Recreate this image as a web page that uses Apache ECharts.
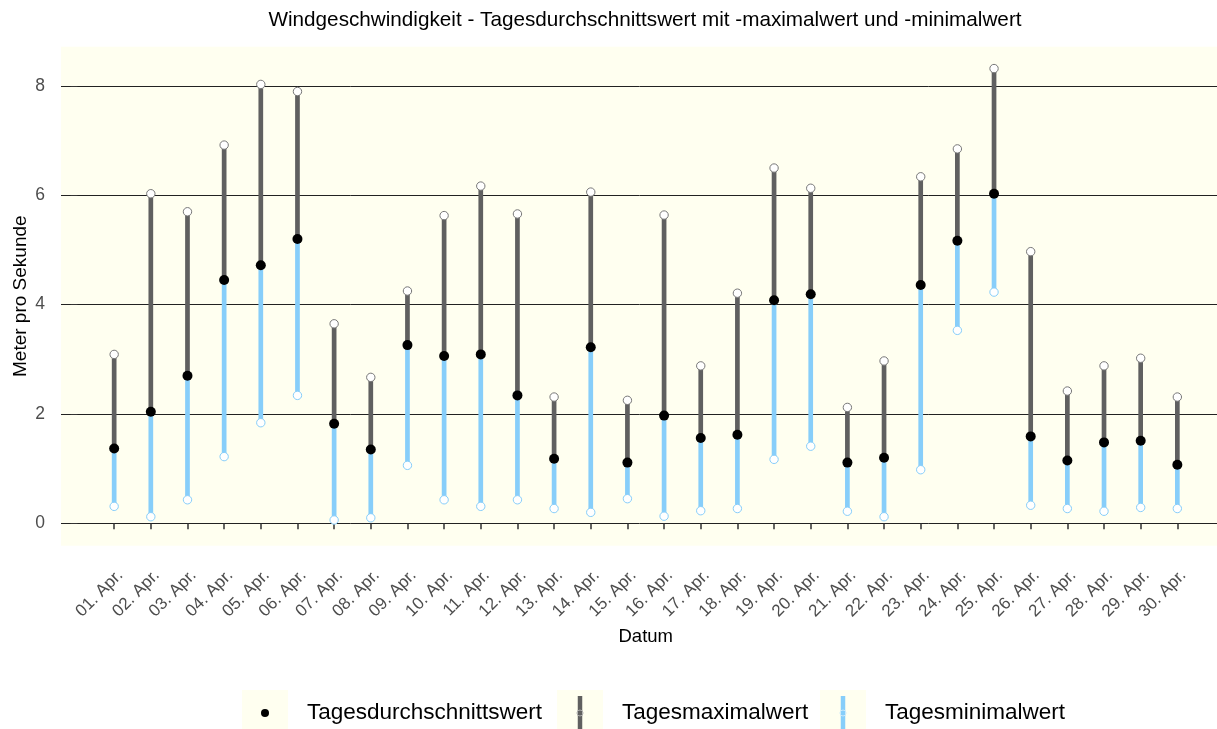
<!DOCTYPE html>
<html>
<head>
<meta charset="utf-8">
<script src="https://cdn.jsdelivr.net/npm/echarts@6/dist/echarts.min.js"></script>
<style>
html,body{margin:0;padding:0;background:#fff;}
#chart{width:1217px;height:729px;}
</style>
</head>
<body>
<div id="chart"></div>
<script>
const days = ['01. Apr.','02. Apr.','03. Apr.','04. Apr.','05. Apr.','06. Apr.','07. Apr.','08. Apr.','09. Apr.','10. Apr.',
  '11. Apr.','12. Apr.','13. Apr.','14. Apr.','15. Apr.','16. Apr.','17. Apr.','18. Apr.','19. Apr.','20. Apr.',
  '21. Apr.','22. Apr.','23. Apr.','24. Apr.','25. Apr.','26. Apr.','27. Apr.','28. Apr.','29. Apr.','30. Apr.'];
const meanVals = [1.37,2.04,2.70,4.45,4.72,5.20,1.82,1.35,3.26,3.06,3.09,2.34,1.18,3.22,1.11,1.97,1.56,1.62,4.08,4.19,1.11,1.20,4.36,5.17,6.03,1.59,1.15,1.48,1.51,1.07];
const maxVals = [3.09,6.03,5.70,6.92,8.03,7.90,3.65,2.67,4.25,5.63,6.17,5.66,2.31,6.06,2.25,5.64,2.88,4.21,6.50,6.13,2.12,2.97,6.34,6.85,8.32,4.97,2.42,2.88,3.02,2.31];
const minVals = [0.31,0.12,0.43,1.22,1.84,2.34,0.06,0.10,1.06,0.43,0.31,0.43,0.27,0.20,0.45,0.13,0.23,0.27,1.17,1.41,0.22,0.12,0.98,3.53,4.23,0.33,0.27,0.22,0.29,0.27];
const yTicks = [0,2,4,6,8];

const titleText = 'Windgeschwindigkeit - Tagesdurchschnittswert mit -maximalwert und -minimalwert';
const nameMean = 'Tagesdurchschnittswert', nameMax = 'Tagesmaximalwert', nameMin = 'Tagesminimalwert';

const PANEL = '#FFFFF0', GREY = '#606060', BLUE = '#87CEFA';
const FONT = '"Liberation Sans", Arial, sans-serif';

const xPos = days.map((d, i) => i + 1);

function svgIcon(inner) {
  const svg = "<svg xmlns='http://www.w3.org/2000/svg' width='46' height='46'><rect width='46' height='46' fill='" + PANEL + "'/>" + inner + "</svg>";
  return 'image://data:image/svg+xml;charset=utf-8,' + encodeURIComponent(svg);
}
const iconMean = svgIcon("<circle cx='23' cy='23' r='4' fill='#000'/>");
const iconMax = svgIcon("<line x1='23' y1='6' x2='23' y2='40' stroke='" + GREY + "' stroke-width='4.5'/><circle cx='23' cy='23' r='3' fill='none' stroke='#aaaaaa' stroke-width='1'/>");
const iconMin = svgIcon("<line x1='23' y1='6' x2='23' y2='40' stroke='" + BLUE + "' stroke-width='4.5'/><circle cx='23' cy='23' r='3' fill='none' stroke='#c8e8fc' stroke-width='1'/>");

function rangeRenderer(color, circleStroke, circleAtLow) {
  return function (params, api) {
    const x = api.value(0), lo = api.value(1), hi = api.value(2);
    const p1 = api.coord([x, lo]), p2 = api.coord([x, hi]);
    const c = circleAtLow ? p1 : p2;
    return {
      type: 'group',
      children: [
        {type: 'line', shape: {x1: p1[0], y1: p1[1], x2: p2[0], y2: p2[1]}, style: {stroke: color, lineWidth: 4.7}},
        {type: 'circle', shape: {cx: c[0], cy: c[1], r: 4.2}, style: {fill: '#ffffff', stroke: circleStroke, lineWidth: 1}}
      ]
    };
  };
}

const legendBase = {
  top: 690, itemWidth: 46, itemHeight: 46, padding: 0, selectedMode: false,
  textStyle: {fontSize: 22.5, color: '#000', fontFamily: FONT, padding: [0, 0, 0, 14]}
};

const chart = echarts.init(document.getElementById('chart'));
chart.setOption({
  animation: false,
  backgroundColor: '#ffffff',
  textStyle: {fontFamily: FONT},
  title: {
    text: titleText, left: 645, top: 10, textAlign: 'center', padding: 0,
    textStyle: {fontSize: 20.7, fontWeight: 'normal', color: '#000', fontFamily: FONT}
  },
  legend: [
    Object.assign({}, legendBase, {left: 242, data: [{name: nameMean, icon: iconMean}]}),
    Object.assign({}, legendBase, {left: 557, data: [{name: nameMax, icon: iconMax}]}),
    Object.assign({}, legendBase, {left: 820, data: [{name: nameMin, icon: iconMin}]})
  ],
  grid: {
    left: 61, top: 46.7, width: 1169.5, bottom: 183.3,
    show: true, backgroundColor: PANEL, borderWidth: 0, containLabel: false,
    outerBoundsMode: 'none'
  },
  xAxis: {
    type: 'value', min: -0.45, max: 31.45,
    name: 'Datum', nameLocation: 'middle', nameGap: 82,
    nameTextStyle: {fontSize: 18.5, color: '#000', fontFamily: FONT},
    axisLine: {show: false},
    axisTick: {show: true, customValues: xPos, length: 6, inside: false, lineStyle: {color: '#333', width: 1.5}},
    axisLabel: {
      customValues: xPos, rotate: 45, margin: 21, verticalAlign: 'top',
      fontSize: 17, color: '#4d4d4d', fontFamily: FONT,
      formatter: v => days[Math.round(v) - 1] || ''
    },
    splitLine: {show: false}
  },
  yAxis: {
    type: 'value', min: -0.41, max: 8.72,
    name: 'Meter pro Sekunde', nameLocation: 'middle', nameGap: 31, nameRotate: 90,
    nameMoveOverlap: false,
    nameTextStyle: {fontSize: 19, color: '#000', fontFamily: FONT},
    axisLine: {show: false},
    axisTick: {show: true, customValues: yTicks, length: 7, lineStyle: {color: '#333', width: 1}},
    axisLabel: {customValues: yTicks, margin: 16, fontSize: 17.5, color: '#4d4d4d', fontFamily: FONT},
    splitLine: {show: true, lineStyle: {color: '#222', width: 1}}
  },
  series: [
    {
      name: nameMax, type: 'custom', clip: false, color: GREY,
      renderItem: rangeRenderer(GREY, '#777777', false),
      encode: {x: 0, y: [1, 2]},
      data: xPos.map((x, i) => [x, meanVals[i], maxVals[i]]),
      z: 2
    },
    {
      name: nameMin, type: 'custom', clip: false, color: BLUE,
      renderItem: rangeRenderer(BLUE, BLUE, true),
      encode: {x: 0, y: [1, 2]},
      data: xPos.map((x, i) => [x, minVals[i], meanVals[i]]),
      z: 2
    },
    {
      name: nameMean, type: 'scatter', clip: false,
      symbol: 'circle', symbolSize: 10,
      itemStyle: {color: '#000', opacity: 1},
      data: xPos.map((x, i) => [x, meanVals[i]]),
      z: 5
    }
  ]
});
</script>
</body>
</html>
